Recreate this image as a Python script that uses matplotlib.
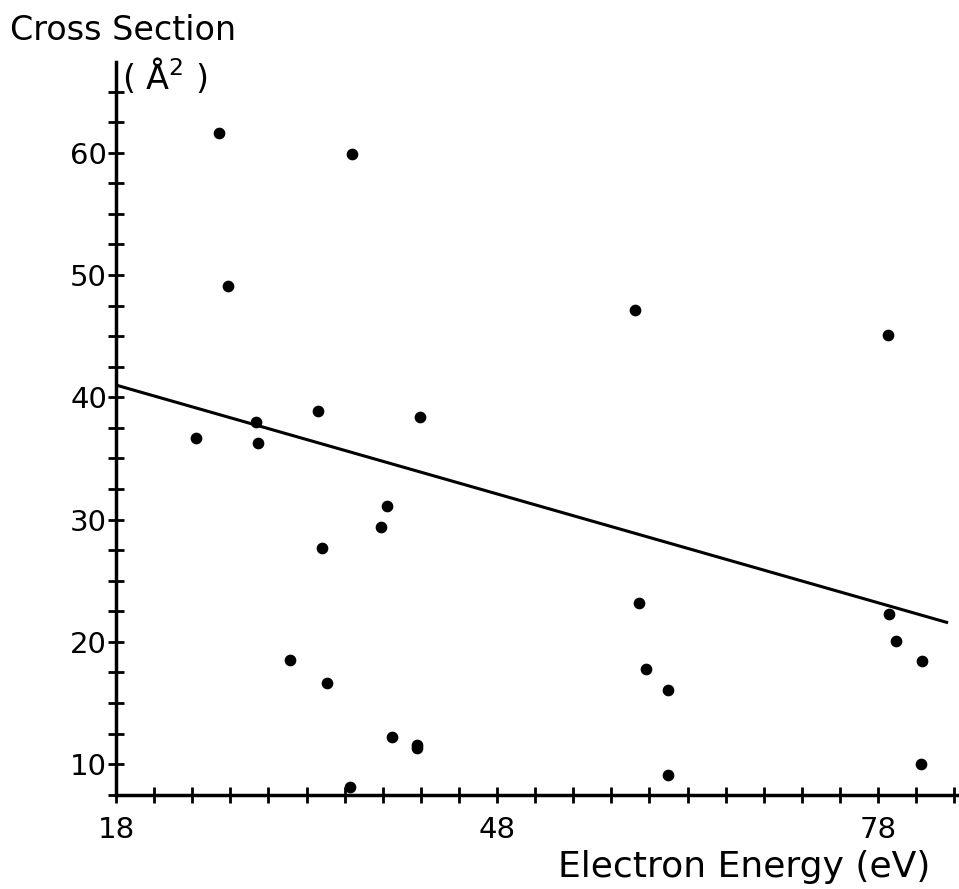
import numpy as np
import matplotlib
matplotlib.use('Agg')
import matplotlib.pyplot as plt
from matplotlib.ticker import MultipleLocator, FixedLocator

# Electron energy (eV) and cross section (A^2)
energy = [26.1, 26.8, 24.3, 29.0, 29.2, 33.9, 36.6, 41.9, 39.3, 38.9,
          34.2, 31.7, 34.6, 39.7, 41.7, 41.7, 36.4,
          58.9, 59.2, 59.7, 61.5, 61.5,
          78.8, 78.9, 79.4, 81.5, 81.4]
cross_section = [61.6, 49.1, 36.7, 38.0, 36.3, 38.9, 59.9, 38.4, 31.1, 29.4,
                 27.7, 18.5, 16.6, 12.2, 11.6, 11.3, 8.1,
                 47.1, 23.2, 17.8, 16.1, 9.1,
                 45.1, 22.3, 20.1, 18.4, 10.0]

# fitted line end points
fit_x = [18.0, 83.4]
fit_y = [41.0, 21.6]

x_labels = [18, 48, 78]
y_labels = [10, 20, 30, 40, 50, 60]

fig = plt.figure(figsize=(9.59, 8.89), dpi=100)
ax = fig.add_axes([0.121, 0.106, 0.878, 0.824])

ax.scatter(energy, cross_section, s=55, color='black', zorder=3)
ax.plot(fit_x, fit_y, color='black', lw=2.2)

ax.set_xlim(18, 84.3)
ax.set_ylim(7.5, 67.4)

for side in ('top', 'right'):
    ax.spines[side].set_visible(False)
for side in ('left', 'bottom'):
    ax.spines[side].set_linewidth(2.5)

ax.xaxis.set_major_locator(FixedLocator(x_labels))
ax.xaxis.set_minor_locator(MultipleLocator(3))
ax.yaxis.set_major_locator(FixedLocator(y_labels))
ax.yaxis.set_minor_locator(FixedLocator(np.arange(7.5, 66, 2.5)))

ax.tick_params(which='both', direction='inout', width=2, color='black')
ax.tick_params(axis='y', which='both', length=11)
ax.tick_params(axis='x', which='both', length=11)
ax.tick_params(axis='y', which='major', labelsize=21, pad=1)
ax.tick_params(axis='x', which='major', labelsize=21, pad=10)

fig.text(0.010, 0.947, 'Cross Section', fontsize=24, ha='left', va='bottom')
fig.text(0.127, 0.892, '( $\\mathrm{\\AA}^2$ )', fontsize=24, ha='left', va='bottom')
ax.set_xlabel('Electron Energy (eV)', fontsize=26)
ax.xaxis.set_label_coords(0.967, -0.075)
ax.xaxis.label.set_horizontalalignment('right')

fig.savefig('out.png', dpi=100)
